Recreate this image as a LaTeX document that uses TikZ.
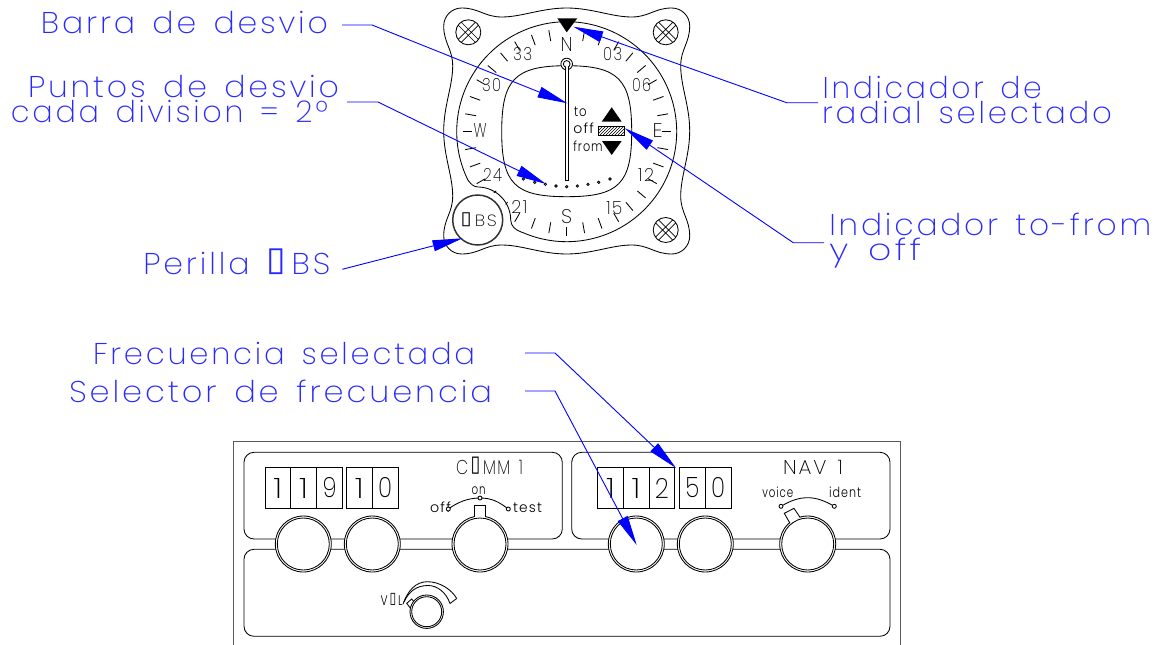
\documentclass[tikz,border=0pt]{standalone}
\usepackage{fontspec}
\usepackage{graphicx}
\usetikzlibrary{arrows.meta,patterns}
\newfontfamily\cadfont[UprightFont=* ExtraLight,LetterSpace=9]{Poppins}
\newfontfamily\cadsmall[UprightFont=* Light,LetterSpace=9]{Poppins}
\newfontfamily\boxfont{DejaVu Sans}
\newcommand{\bx}{\resizebox*{.62em}{.86em}{\raisebox{\depth}{\boxfont\symbol{"25AF}}}}
\newcommand{\gapw}{\hspace{0.55em}}
\definecolor{leadblue}{RGB}{0,0,255}
\definecolor{textblue}{RGB}{40,40,255}
\tikzset{
  lead/.style={leadblue,line width=0.9pt,-{Triangle[length=30pt,width=11pt]}},
  lab/.style={inner sep=0pt,outer sep=0pt,text=textblue,font=\fontsize{30}{30}\cadfont},
  inst/.style={black,line width=0.85pt},
  dlab/.style={inner sep=0pt,outer sep=0pt,text=black,font=\fontsize{20}{20}\cadfont},
  smalltxt/.style={inner sep=0pt,outer sep=0pt,text=black,font=\fontsize{14}{14}\cadsmall,anchor=base west},
  knob/.style={inst,fill=white},
  ring/.style={inst,fill=white},
  panelbox/.style={inst,rounded corners=10pt}
}
% name, x, baseline, width, text
\newcommand{\lbl}[5]{\node[lab,anchor=base west] (#1) at (#2,#3) {\resizebox{#4pt}{\height}{#5}};}
\newcommand{\dlbl}[6]{\node[dlab,anchor=center] (#1) at (#2,#3) {\resizebox{#4pt}{#5pt}{#6}};}
\newcommand{\tlbl}[5]{\node[smalltxt] (#1) at (#2,#3) {\resizebox{#4pt}{\height}{#5}};}
\newcommand{\screw}[2]{%
  \begin{scope}[shift={(#1,#2)}]
    \draw[inst] (0,0) circle[radius=12.5];
    \draw[inst,line width=0.7pt] (-10.2,-7.2) -- (7.2,10.2) (-7.2,-10.2) -- (10.2,7.2)
                  (10.2,-7.2) -- (-7.2,10.2) (7.2,-10.2) -- (-10.2,7.2);
  \end{scope}}
\newcommand{\quadr}{(0,-123) .. controls (-25,-123) and (-45,-114) .. (-65,-114) .. controls (-82,-114) and (-88,-123) .. (-105,-123) .. controls (-115,-123) and (-123,-115) .. (-123,-105) .. controls (-123,-88) and (-114,-82) .. (-114,-65) .. controls (-114,-45) and (-123,-25) .. (-123,0)}
\begin{document}
\begin{tikzpicture}[x=1pt,y=-1pt]
\useasboundingbox (0,0) rectangle (1160,645);
%---- instrument body
\foreach \sx/\sy in {1/1,-1/1,1/-1,-1/-1}{
  \begin{scope}[shift={(566.7,131)},xscale=\sx,yscale=\sy]
    \draw[inst] \quadr;
  \end{scope}
}
\screw{468.3}{32.3}\screw{665.7}{32.3}\screw{665.7}{230}
%---- dial rim
\def\cx{566.7}\def\cy{131.7}
\draw[inst] plot[smooth,domain=-116:204,samples=90] ({\cx+110*sin(\x)},{\cy-110*cos(\x)});
\draw[inst] (521.9,232.3) .. controls (515,230) and (511,226) .. (510.7,220);
\draw[inst] plot[smooth,domain=0:90,samples=20] ({477.7+33*cos(\x)},{220-33*sin(\x)});
\draw[inst] (477.7,187) .. controls (473,186.5) and (471,184) .. (467.8,180);
%---- ticks
\foreach \h in {10,20,40,50,70,80,100,110,130,140,160,170,190,200,250,260,280,290,310,320,340,350}{
  \draw[inst] ({\cx+92*sin(\h)},{\cy-92*cos(\h)}) -- ({\cx+103*sin(\h)},{\cy-103*cos(\h)});
}
\foreach \h in {30,60,120,150,210,240,300,330}{
  \draw[inst] ({\cx+94*sin(\h)},{\cy-94*cos(\h)}) -- ({\cx+104*sin(\h)},{\cy-104*cos(\h)});
}
\foreach \h in {90,180,270}{
  \draw[inst] ({\cx+95*sin(\h)},{\cy-95*cos(\h)}) -- ({\cx+104*sin(\h)},{\cy-104*cos(\h)});
}
\foreach \h in {220,230}{
  \draw[inst] ({\cx+92*sin(\h)},{\cy-92*cos(\h)}) -- ({\cx+95*sin(\h)},{\cy-95*cos(\h)});
}
%---- dial labels
\dlbl{dN}{566.7}{44.3}{12}{14}{N}
\dlbl{d03}{612.7}{54}{19}{13}{03}
\dlbl{d06}{641.7}{85}{19}{13}{06}
\dlbl{dE}{657.7}{130}{10}{14}{E}
\dlbl{d12}{646}{175}{16}{13}{12}
\dlbl{d15}{614.3}{208.3}{16}{13}{15}
\dlbl{dS}{566.7}{216.7}{11}{14}{S}
\dlbl{d21}{519.3}{207.3}{16}{13}{21}
\dlbl{d24}{492.7}{175}{19}{13}{24}
\dlbl{dW}{480}{130}{13}{14}{W}
\dlbl{d30}{491.7}{85}{19}{13}{30}
\dlbl{d33}{522.7}{54}{19}{13}{33}
%---- top index
\fill[black] (557.3,18.3) -- (577.3,18.3) -- (566.7,32.3) -- cycle;
%---- window
\begin{scope}[shift={(566.7,131.7)}]
  \draw[inst] (0,-66) .. controls (-52,-66) and (-65,-52) .. (-65,0)
     .. controls (-65,52) and (-52,65) .. (0,65)
     .. controls (52,65) and (65,52) .. (65,0)
     .. controls (65,-52) and (52,-66) .. (0,-66);
\end{scope}
%---- needle
\draw[ring] (566.7,64) circle[radius=5.8];
\draw[inst,fill=white,line width=0.7pt] (565.2,66) rectangle (568.2,180);
\draw[inst,fill=white] (566.7,64) circle[radius=3.4];
\fill[white] (565.6,66) rectangle (567.8,72);
%---- deviation dots
\foreach \dx/\py in {-43.3/179,-32/182.3,-21.3/184.3,-10.7/186,0/186.7,10.7/186,21.3/184.3,32/182.3,43.3/179}{
  \draw[inst,line width=0.8pt] (566.7+\dx,\py) circle[radius=1.2];
}
%---- to off from
\tlbl{lto}{574}{116}{12.7}{to}
\tlbl{loff}{573.3}{133.3}{20.7}{off}
\tlbl{lfrom}{573.3}{151.7}{29.4}{from}
\fill[black] (611.7,107.3) -- (621.7,121.7) -- (601.7,121.7) -- cycle;
\fill[black] (602,141) -- (621.7,141) -- (611.7,155) -- cycle;
\draw[inst,pattern=north east lines,line width=0.6pt] (598.3,126.7) rectangle (624.3,135.7);
%---- OBS knob
\draw[black!80,line width=1.5pt] (477.7,220) circle[radius=25];
\dlbl{lobs}{478.7}{220}{36}{14}{\bx\,BS}
%---- radio panel
\draw[black!65,line width=1pt] (233.7,645) -- (233.7,441.7) -- (900,441.7) -- (900,645);
\draw[panelbox] (244,452.3) rectangle (562.3,539);
\draw[panelbox] (571.7,452.3) rectangle (890,539);
\draw[panelbox] (244,549.3) rectangle (890,636.3);
%---- digit windows
\foreach \xa/\xb in {265/290.7,290.7/316.7,316.7/342.3,346.3/372.3,372.3/398,597.7/623.3,623.3/649,649/674.7,679.3/705.3,705.3/731}{
  \draw[inst] (\xa,467.3) rectangle (\xb,508);
}
\foreach \n/\x/\t in {a/277.8/1,b/303.7/1,c/329.5/9,d/359.3/1,e/385.2/0,f/610.5/1,g/636.2/1,h/661.8/2,i/692.3/5,j/718.2/0}{
  \node[dlab,anchor=center] (dig\n) at (\x,488) {\resizebox{\ifnum\t=1 9\else 14\fi pt}{20pt}{\t}};
}
%---- knobs
\foreach \x in {303.3,372.3,480,636.3,705.3,807.7}{
  \draw[knob] (\x,544) circle[radius=28];
  \draw[inst] (\x,544) circle[radius=26];
}
\draw[knob] (474.3,517) -- (474.3,505.7) -- (485,505.7) -- (485,517);
\draw[knob] (790,523.3) -- (784.3,513.3) -- (794,508.3) -- (800,517.3);
%---- comm
\tlbl{lcomm}{456}{474}{67}{\fontsize{20}{20}\cadfont C\,\bx\,MM\gapw 1}
\tlbl{lon}{471.5}{494.5}{14}{on}
\tlbl{loffb}{430}{512}{21}{off}
\tlbl{ltest}{513}{512}{29}{test}
\draw[inst] (448.3,509) .. controls (458,502) and (468,498) .. (480,498) .. controls (492,498) and (499,502) .. (508.3,509);
\draw[ring] (448.3,509) circle[radius=2];
\draw[ring] (480,498) circle[radius=2];
\draw[ring] (508.3,509) circle[radius=2];
%---- nav
\tlbl{lnav}{783}{474}{60}{\fontsize{20}{20}\cadfont NAV\gapw 1}
\tlbl{lvoice}{762.3}{497}{31}{voice}
\tlbl{lident}{829}{497}{32}{ident}
\draw[inst] (781,506.3) .. controls (790,501) and (798,497.7) .. (807.7,497.7) .. controls (817,497.7) and (825,501) .. (834.3,506.3);
\draw[ring] (781,506.3) circle[radius=2];
\draw[ring] (834.3,506.3) circle[radius=2];
%---- volume
\draw[inst] (403,604) .. controls (408,590) and (416,582) .. (427,581.7) .. controls (440,581.5) and (452,590) .. (456.7,598.5);
\draw[inst] (404,602) .. controls (409,591) and (417,585.5) .. (428,585.5) .. controls (437,585.5) and (446,592) .. (450,603.5);
\draw[inst] (456.7,598.5) -- (450,603.5);
\draw[knob] (406.7,603.3) -- (411.7,599) -- (415.3,603.3) -- (410,607.7) -- cycle;
\draw[knob] (426.7,611.7) circle[radius=16.7];
\draw[inst] (426.7,611.7) circle[radius=15];
\tlbl{lvol}{380.7}{605.7}{22}{V\,\bx\,L}
%---- callout labels
\lbl{lbarra}{41}{33}{287}{Barra\gapw de\gapw desvio}
\lbl{lpuntos}{28}{97}{311}{Puntos\gapw de\gapw desvio}
\lbl{lcada}{11}{122.5}{317}{cada\gapw division\gapw =\gapw 2º}
\lbl{lperilla}{143.3}{274.3}{187}{Perilla\gapw \bx\,BS}
\lbl{lind}{822.7}{98.3}{219}{Indicador\gapw de}
\lbl{lrad}{822}{123.3}{290}{radial\gapw selectado}
\lbl{lto2}{829.3}{235.7}{322}{Indicador\gapw to-from}
\lbl{ly}{829.3}{260.7}{92}{y\gapw off}
\lbl{lfreq}{93}{364}{382}{Frecuencia\gapw selectada}
\lbl{lsel}{69}{402}{423}{Selector\gapw de\gapw frecuencia}
%---- leader points
\coordinate (b0) at (342,25);  \coordinate (b1) at (372,25);  \coordinate (bt) at (567.3,103.3);
\coordinate (p0) at (347,102); \coordinate (p1) at (378,102); \coordinate (pt) at (546,184);
\coordinate (o0) at (342.3,269.3); \coordinate (ot) at (462.5,238.3);
\coordinate (r0) at (818,102.7); \coordinate (r1) at (786.7,102.7); \coordinate (rt) at (573.3,26.7);
\coordinate (t0) at (824,242.7); \coordinate (t1) at (793.3,242.7); \coordinate (tt) at (625,128.3);
\coordinate (f0) at (525,353); \coordinate (f1) at (555,353); \coordinate (ft) at (676,468);
\coordinate (s0) at (525,391); \coordinate (s1) at (555,391); \coordinate (st) at (636.7,545);
\draw[lead] (b0) -- (b1) -- (bt);
\draw[lead] (p0) -- (p1) -- (pt);
\draw[lead] (o0) -- (ot);
\draw[lead] (r0) -- (r1) -- (rt);
\draw[lead] (t0) -- (t1) -- (tt);
\draw[lead] (f0) -- (f1) -- (ft);
\draw[lead] (s0) -- (s1) -- (st);
\end{tikzpicture}
\end{document}
